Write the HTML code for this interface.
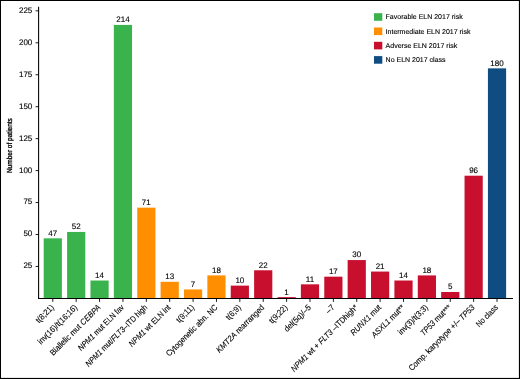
<!DOCTYPE html><html><head><meta charset="utf-8"><style>html,body{margin:0;padding:0;background:#fff}svg{display:block;will-change:transform}text{font-family:"Liberation Sans",sans-serif;text-rendering:geometricPrecision;stroke:#000;stroke-width:0.12px}</style></head><body><svg width="520" height="379" viewBox="0 0 520 379" font-family="Liberation Sans, sans-serif" fill="#000"><rect x="0" y="0" width="520" height="379" fill="#000"/><rect x="1" y="1" width="517.9" height="376.9" fill="#fff"/><rect x="43.70" y="238.33" width="18.20" height="60.07" fill="#3bb34d"/><text x="52.80" y="235.73" font-size="8" text-anchor="middle">47</text><line x1="52.80" y1="298" x2="52.80" y2="301.9" stroke="#000" stroke-width="0.9"/><text transform="translate(54.40 308.00) rotate(-45)" font-size="8.3" text-anchor="end" textLength="21.77" lengthAdjust="spacingAndGlyphs">t(8;21)</text><rect x="67.08" y="231.94" width="18.20" height="66.46" fill="#3bb34d"/><text x="76.18" y="229.34" font-size="8" text-anchor="middle">52</text><line x1="76.18" y1="298" x2="76.18" y2="301.9" stroke="#000" stroke-width="0.9"/><text transform="translate(77.78 308.00) rotate(-45)" font-size="8.3" text-anchor="end" textLength="52.09" lengthAdjust="spacingAndGlyphs">inv(16)/t(16;16)</text><rect x="90.46" y="280.51" width="18.20" height="17.89" fill="#3bb34d"/><text x="99.56" y="277.91" font-size="8" text-anchor="middle">14</text><line x1="99.56" y1="298" x2="99.56" y2="301.9" stroke="#000" stroke-width="0.9"/><text transform="translate(101.16 308.00) rotate(-45)" font-size="8.3" text-anchor="end" textLength="67.86" lengthAdjust="spacingAndGlyphs">Biallelic mut <tspan font-style="italic">CEBPA</tspan></text><rect x="113.84" y="24.91" width="18.20" height="273.49" fill="#3bb34d"/><text x="122.94" y="22.31" font-size="8" text-anchor="middle">214</text><line x1="122.94" y1="298" x2="122.94" y2="301.9" stroke="#000" stroke-width="0.9"/><text transform="translate(124.54 308.00) rotate(-45)" font-size="8.3" text-anchor="end" textLength="61.09" lengthAdjust="spacingAndGlyphs"><tspan font-style="italic">NPM1</tspan> mut ELN fav</text><rect x="137.22" y="207.66" width="18.20" height="90.74" fill="#ff8f00"/><text x="146.32" y="205.06" font-size="8" text-anchor="middle">71</text><line x1="146.32" y1="298" x2="146.32" y2="301.9" stroke="#000" stroke-width="0.9"/><text transform="translate(147.92 308.00) rotate(-45)" font-size="8.3" text-anchor="end" textLength="83.73" lengthAdjust="spacingAndGlyphs"><tspan font-style="italic">NPM1</tspan> mut/<tspan font-style="italic">FLT3</tspan>–ITD high</text><rect x="160.60" y="281.79" width="18.20" height="16.61" fill="#ff8f00"/><text x="169.70" y="279.19" font-size="8" text-anchor="middle">13</text><line x1="169.70" y1="298" x2="169.70" y2="301.9" stroke="#000" stroke-width="0.9"/><text transform="translate(171.30 308.00) rotate(-45)" font-size="8.3" text-anchor="end" textLength="55.52" lengthAdjust="spacingAndGlyphs"><tspan font-style="italic">NPM1</tspan> wt ELN int</text><rect x="183.98" y="289.45" width="18.20" height="8.95" fill="#ff8f00"/><text x="193.08" y="286.85" font-size="8" text-anchor="middle">7</text><line x1="193.08" y1="298" x2="193.08" y2="301.9" stroke="#000" stroke-width="0.9"/><text transform="translate(194.68 308.00) rotate(-45)" font-size="8.3" text-anchor="end" textLength="21.40" lengthAdjust="spacingAndGlyphs">t(9;11)</text><rect x="207.36" y="275.40" width="18.20" height="23.00" fill="#ff8f00"/><text x="216.46" y="272.80" font-size="8" text-anchor="middle">18</text><line x1="216.46" y1="298" x2="216.46" y2="301.9" stroke="#000" stroke-width="0.9"/><text transform="translate(218.06 308.00) rotate(-45)" font-size="8.3" text-anchor="end" textLength="69.12" lengthAdjust="spacingAndGlyphs">Cytogenetic abn. NC</text><rect x="230.74" y="285.62" width="18.20" height="12.78" fill="#c8102e"/><text x="239.84" y="283.02" font-size="8" text-anchor="middle">10</text><line x1="239.84" y1="298" x2="239.84" y2="301.9" stroke="#000" stroke-width="0.9"/><text transform="translate(241.44 308.00) rotate(-45)" font-size="8.3" text-anchor="end" textLength="17.63" lengthAdjust="spacingAndGlyphs">t(6;9)</text><rect x="254.12" y="270.28" width="18.20" height="28.12" fill="#c8102e"/><text x="263.22" y="267.68" font-size="8" text-anchor="middle">22</text><line x1="263.22" y1="298" x2="263.22" y2="301.9" stroke="#000" stroke-width="0.9"/><text transform="translate(264.82 308.00) rotate(-45)" font-size="8.3" text-anchor="end" textLength="64.05" lengthAdjust="spacingAndGlyphs"><tspan font-style="italic">KMT2A</tspan> rearranged</text><rect x="277.50" y="297.12" width="18.20" height="1.28" fill="#c8102e"/><text x="286.60" y="294.52" font-size="8" text-anchor="middle">1</text><line x1="286.60" y1="298" x2="286.60" y2="301.9" stroke="#000" stroke-width="0.9"/><text transform="translate(288.20 308.00) rotate(-45)" font-size="8.3" text-anchor="end" textLength="22.55" lengthAdjust="spacingAndGlyphs">t(9;22)</text><rect x="300.88" y="284.34" width="18.20" height="14.06" fill="#c8102e"/><text x="309.98" y="281.74" font-size="8" text-anchor="middle">11</text><line x1="309.98" y1="298" x2="309.98" y2="301.9" stroke="#000" stroke-width="0.9"/><text transform="translate(311.58 308.00) rotate(-45)" font-size="8.3" text-anchor="end" textLength="34.47" lengthAdjust="spacingAndGlyphs">del(5q)/–5</text><rect x="324.26" y="276.67" width="18.20" height="21.73" fill="#c8102e"/><text x="333.36" y="274.07" font-size="8" text-anchor="middle">17</text><line x1="333.36" y1="298" x2="333.36" y2="301.9" stroke="#000" stroke-width="0.9"/><text transform="translate(334.96 308.00) rotate(-45)" font-size="8.3" text-anchor="end" textLength="8.69" lengthAdjust="spacingAndGlyphs">–7</text><rect x="347.64" y="260.06" width="18.20" height="38.34" fill="#c8102e"/><text x="356.74" y="257.46" font-size="8" text-anchor="middle">30</text><line x1="356.74" y1="298" x2="356.74" y2="301.9" stroke="#000" stroke-width="0.9"/><text transform="translate(358.34 308.00) rotate(-45)" font-size="8.3" text-anchor="end" textLength="90.73" lengthAdjust="spacingAndGlyphs"><tspan font-style="italic">NPM1</tspan> wt + <tspan font-style="italic">FLT3</tspan> –ITDhigh*</text><rect x="371.02" y="271.56" width="18.20" height="26.84" fill="#c8102e"/><text x="380.12" y="268.96" font-size="8" text-anchor="middle">21</text><line x1="380.12" y1="298" x2="380.12" y2="301.9" stroke="#000" stroke-width="0.9"/><text transform="translate(381.72 308.00) rotate(-45)" font-size="8.3" text-anchor="end" textLength="39.51" lengthAdjust="spacingAndGlyphs"><tspan font-style="italic">RUNX1</tspan> mut</text><rect x="394.40" y="280.51" width="18.20" height="17.89" fill="#c8102e"/><text x="403.50" y="277.91" font-size="8" text-anchor="middle">14</text><line x1="403.50" y1="298" x2="403.50" y2="301.9" stroke="#000" stroke-width="0.9"/><text transform="translate(405.10 308.00) rotate(-45)" font-size="8.3" text-anchor="end" textLength="42.76" lengthAdjust="spacingAndGlyphs"><tspan font-style="italic">ASXL1</tspan> mut**</text><rect x="417.78" y="275.40" width="18.20" height="23.00" fill="#c8102e"/><text x="426.88" y="272.80" font-size="8" text-anchor="middle">18</text><line x1="426.88" y1="298" x2="426.88" y2="301.9" stroke="#000" stroke-width="0.9"/><text transform="translate(428.48 308.00) rotate(-45)" font-size="8.3" text-anchor="end" textLength="38.47" lengthAdjust="spacingAndGlyphs">inv(3)/t(3;3)</text><rect x="441.16" y="292.01" width="18.20" height="6.39" fill="#c8102e"/><text x="450.26" y="289.41" font-size="8" text-anchor="middle">5</text><line x1="450.26" y1="298" x2="450.26" y2="301.9" stroke="#000" stroke-width="0.9"/><text transform="translate(451.86 308.00) rotate(-45)" font-size="8.3" text-anchor="end" textLength="39.88" lengthAdjust="spacingAndGlyphs"><tspan font-style="italic">TP53</tspan> mut***</text><rect x="464.54" y="175.71" width="18.20" height="122.69" fill="#c8102e"/><text x="473.64" y="173.11" font-size="8" text-anchor="middle">96</text><line x1="473.64" y1="298" x2="473.64" y2="301.9" stroke="#000" stroke-width="0.9"/><text transform="translate(475.24 308.00) rotate(-45)" font-size="8.3" text-anchor="end" textLength="89.51" lengthAdjust="spacingAndGlyphs">Comp. karyotype +/– <tspan font-style="italic">TP53</tspan></text><rect x="487.92" y="68.36" width="18.20" height="230.04" fill="#0f4c81"/><text x="497.02" y="65.76" font-size="8" text-anchor="middle">180</text><line x1="497.02" y1="298" x2="497.02" y2="301.9" stroke="#000" stroke-width="0.9"/><text transform="translate(498.62 308.00) rotate(-45)" font-size="8.3" text-anchor="end" textLength="27.51" lengthAdjust="spacingAndGlyphs">No class</text><line x1="38.6" y1="6.7" x2="38.6" y2="298.8" stroke="#000" stroke-width="1.06"/><line x1="38.07" y1="298.55" x2="513" y2="298.55" stroke="#000" stroke-width="1.1"/><line x1="35.6" y1="266.45" x2="38.5" y2="266.45" stroke="#000" stroke-width="0.9"/><text x="32.3" y="268.35" font-size="8" text-anchor="end">25</text><line x1="35.6" y1="234.50" x2="38.5" y2="234.50" stroke="#000" stroke-width="0.9"/><text x="32.3" y="236.40" font-size="8" text-anchor="end">50</text><line x1="35.6" y1="202.55" x2="38.5" y2="202.55" stroke="#000" stroke-width="0.9"/><text x="32.3" y="204.45" font-size="8" text-anchor="end">75</text><line x1="35.6" y1="170.60" x2="38.5" y2="170.60" stroke="#000" stroke-width="0.9"/><text x="32.3" y="172.50" font-size="8" text-anchor="end">100</text><line x1="35.6" y1="138.65" x2="38.5" y2="138.65" stroke="#000" stroke-width="0.9"/><text x="32.3" y="140.55" font-size="8" text-anchor="end">125</text><line x1="35.6" y1="106.70" x2="38.5" y2="106.70" stroke="#000" stroke-width="0.9"/><text x="32.3" y="108.60" font-size="8" text-anchor="end">150</text><line x1="35.6" y1="74.75" x2="38.5" y2="74.75" stroke="#000" stroke-width="0.9"/><text x="32.3" y="76.65" font-size="8" text-anchor="end">175</text><line x1="35.6" y1="42.80" x2="38.5" y2="42.80" stroke="#000" stroke-width="0.9"/><text x="32.3" y="44.70" font-size="8" text-anchor="end">200</text><line x1="35.6" y1="10.85" x2="38.5" y2="10.85" stroke="#000" stroke-width="0.9"/><text x="32.3" y="12.75" font-size="8" text-anchor="end">225</text><text transform="translate(12.4 145.6) rotate(-90) scale(0.88 1)" style="stroke-width:0.3px" font-size="7.4" text-anchor="middle">Number of patients</text><rect x="374" y="13.20" width="8.3" height="7.6" fill="#3bb34d"/><text x="385.6" y="19.30" font-size="7.0">Favorable ELN 2017 risk</text><rect x="374" y="27.50" width="8.3" height="7.6" fill="#ff8f00"/><text x="385.6" y="33.60" font-size="7.0">Intermediate ELN 2017 risk</text><rect x="374" y="41.80" width="8.3" height="7.6" fill="#c8102e"/><text x="385.6" y="47.90" font-size="7.0">Adverse ELN 2017 risk</text><rect x="374" y="56.10" width="8.3" height="7.6" fill="#0f4c81"/><text x="385.6" y="62.20" font-size="7.0">No ELN 2017 class</text></svg></body></html>
